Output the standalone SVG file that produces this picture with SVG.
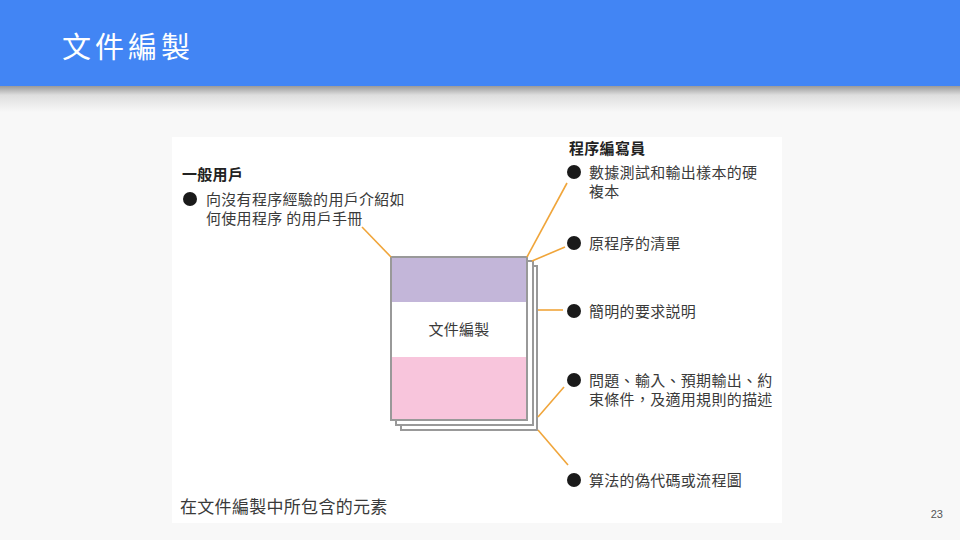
<svg xmlns="http://www.w3.org/2000/svg" width="960" height="540" viewBox="0 0 960 540">
<defs>
<linearGradient id="shadow" x1="0" y1="0" x2="0" y2="1">
<stop offset="0" stop-color="#9a9a9a"/>
<stop offset="0.35" stop-color="#dedede"/>
<stop offset="1" stop-color="#f8f8f8"/>
</linearGradient>
<style>
.t{font-family:"Noto Sans CJK TC","Noto Sans CJK SC",sans-serif;fill:#3a3a3a;font-size:15px;letter-spacing:0.3px}
.b{font-weight:bold;fill:#222}
.dot{fill:#1a1a1a}
.con{stroke:#f0a53a;stroke-width:1.6;fill:none}
.pg{fill:#fff;stroke:#999;stroke-width:2}
</style>
</defs>
<rect width="960" height="540" fill="#f8f8f8"/>
<rect x="0" y="86" width="960" height="26" fill="url(#shadow)"/>
<rect x="0" y="0" width="960" height="86" fill="#4285f4"/>
<text x="62" y="58" font-family="'Noto Sans CJK TC',sans-serif" font-size="29" letter-spacing="4" fill="#fff">文件編製</text>
<rect x="172" y="137" width="610" height="386" fill="#fff"/>
<g id="document">
<rect class="pg" x="401" y="266" width="136" height="164"/>
<rect class="pg" x="396" y="261" width="137" height="164"/>
<rect x="391" y="257" width="136" height="163" fill="#fff"/>
<rect x="391" y="257" width="136" height="45" fill="#c3b6d9"/>
<rect x="391" y="357" width="136" height="63" fill="#f8c5dc"/>
<rect x="391" y="257" width="136" height="163" fill="none" stroke="#999" stroke-width="2"/>
<text class="t" x="459" y="335" text-anchor="middle">文件編製</text>
</g>
<g id="connectors">
<line class="con" x1="362" y1="227" x2="391" y2="257"/>
<line class="con" x1="527" y1="257" x2="567" y2="183"/>
<line class="con" x1="532" y1="261" x2="565" y2="247"/>
<line class="con" x1="538" y1="310" x2="563" y2="310"/>
<line class="con" x1="538" y1="417" x2="564" y2="387"/>
<line class="con" x1="538" y1="430" x2="568" y2="465"/>
</g>
<g id="general-user">
<text class="t b" x="182" y="180">一般用戶</text>
<circle class="dot" cx="190" cy="199" r="7"/>
<text class="t" x="206" y="205">向沒有程序經驗的用戶介紹如</text>
<text class="t" x="206" y="224">何使用程序 的用戶手冊</text>
</g>
<g id="programmer">
<text class="t b" x="569" y="154">程序編寫員</text>
</g>
<g id="item1">
<circle class="dot" cx="574" cy="172" r="7"/>
<text class="t" x="589" y="178">數據測試和輸出樣本的硬</text>
<text class="t" x="589" y="197">複本</text>
</g>
<g id="item2">
<circle class="dot" cx="574" cy="243" r="7"/>
<text class="t" x="589" y="249">原程序的清單</text>
</g>
<g id="item3">
<circle class="dot" cx="574" cy="311" r="7"/>
<text class="t" x="589" y="317">簡明的要求説明</text>
</g>
<g id="item4">
<circle class="dot" cx="574" cy="380" r="7"/>
<text class="t" x="589" y="386">問題、輸入、預期輸出、約</text>
<text class="t" x="589" y="405">束條件，及適用規則的描述</text>
</g>
<g id="item5">
<circle class="dot" cx="574" cy="480" r="7"/>
<text class="t" x="589" y="486">算法的偽代碼或流程圖</text>
</g>
<text class="t" x="180" y="513" style="font-size:17px">在文件編製中所包含的元素</text>
<text x="943" y="518" text-anchor="end" font-family="'Liberation Sans',sans-serif" font-size="11" fill="#555">23</text>
</svg>
